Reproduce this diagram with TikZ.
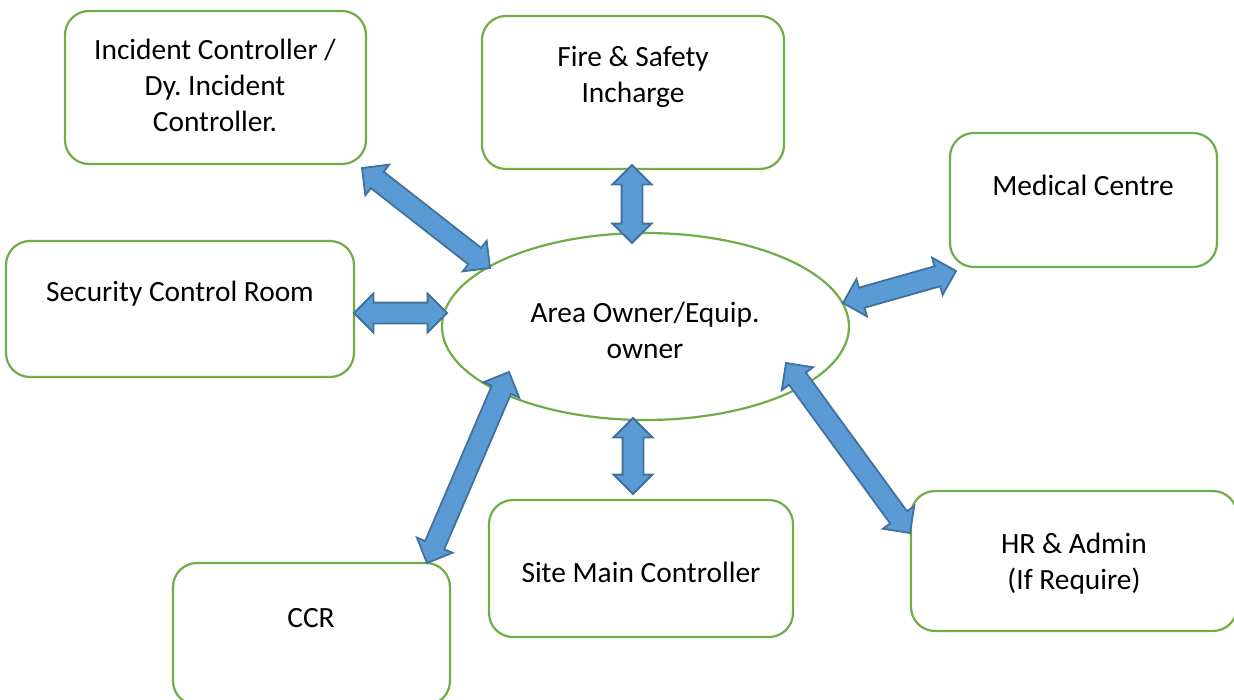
\documentclass[tikz,border=0pt]{standalone}
\usepackage{fontspec}
\setmainfont{Carlito}
\usetikzlibrary{shapes.arrows,shapes.geometric,calc}
\frenchspacing
\definecolor{boxgreen}{HTML}{70AD47}
\definecolor{arrfill}{HTML}{5B9BD5}
\definecolor{arrline}{HTML}{41719C}
\tikzset{
  rbox/.style={draw=boxgreen, line width=2.2pt, rounded corners=24pt, fill=white, inner sep=0pt},
  oval/.style={draw=boxgreen, line width=2.2pt, ellipse, inner sep=0pt},
  lbl/.style={align=center, font=\fontsize{29.4}{36}\selectfont, inner sep=0pt},
  dblarr/.style={double arrow, draw=arrline, fill=arrfill, line width=1.8pt,
    inner xsep=0pt, inner ysep=9.5pt, double arrow head extend=9pt,
    double arrow tip angle=90, minimum width=0pt, line join=miter, anchor=center}
}
\newcommand{\blockarrow}[2]{%
  \path let \p1=(#1), \p2=(#2),
    \n1={atan2(\y2-\y1,\x2-\x1)}, \n2={veclen(\x2-\x1,\y2-\y1)} in
    ($(#1)!0.5!(#2)$) node[dblarr, rotate=\n1, minimum height=\n2] {};}
\begin{document}
\begin{tikzpicture}[x=1pt,y=-1pt]
\useasboundingbox[fill=white] (0,0) rectangle (1234,699);
% boxes
\node[rbox, minimum width=301, minimum height=153] (ic) at (215.5,87.5) {};
\node[lbl] (ict) at (215,85) {Incident Controller /\\Dy. Incident\\Controller.};
\node[rbox, minimum width=302, minimum height=153] (fs) at (633,92.5) {};
\node[lbl] (fst) at (633,77) {Fire \& Safety\\Incharge};
\node[rbox, minimum width=267, minimum height=134] (mc) at (1083.5,200) {};
\node[lbl] (mct) at (1083,185) {Medical Centre};
\node[rbox, minimum width=348, minimum height=136] (sc) at (180,309) {};
\node[lbl] (sct) at (180,294) {Security Control Room};
\node[oval, minimum width=407, minimum height=187] (ao) at (645.5,326.5) {};
\node[lbl] (aot) at (645,330) {Area Owner/Equip.\\owner};
\node[rbox, minimum width=277, minimum height=142] (ccr) at (311.5,634) {};
\node[lbl] (ccrt) at (311,618) {CCR};
\node[rbox, minimum width=304, minimum height=137] (smc) at (641,568.5) {};
\node[lbl] (smct) at (641,572) {Site Main Controller};
\node[rbox, minimum width=326, minimum height=140] (hr) at (1074,561) {};
\node[lbl] (hrt) at (1074,564) {HR \& Admin\\(If Require)};
% arrow end points
\coordinate (a1s) at (362,168); \coordinate (a1e) at (490,268);
\coordinate (a2s) at (354,313); \coordinate (a2e) at (447,313);
\coordinate (a3s) at (632,165); \coordinate (a3e) at (632,243);
\coordinate (a4s) at (843,303); \coordinate (a4e) at (956,271);
\coordinate (a5s) at (509,372); \coordinate (a5e) at (427,563);
\coordinate (a6s) at (633,418); \coordinate (a6e) at (633,494);
\coordinate (a7s) at (786,363); \coordinate (a7e) at (910,533);
\blockarrow{a1s}{a1e}
\blockarrow{a2s}{a2e}
\blockarrow{a3s}{a3e}
\blockarrow{a4s}{a4e}
\blockarrow{a5s}{a5e}
\blockarrow{a6s}{a6e}
\blockarrow{a7s}{a7e}
\end{tikzpicture}
\end{document}
